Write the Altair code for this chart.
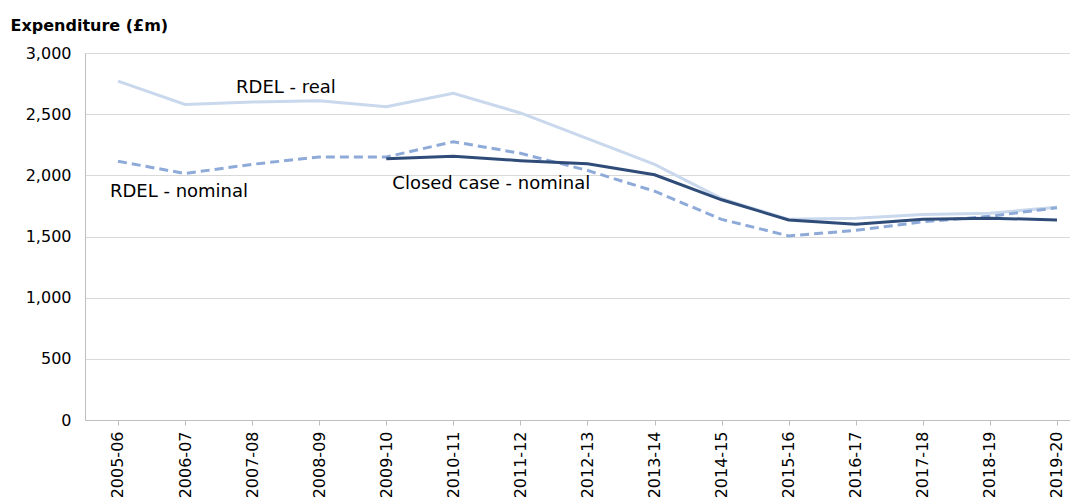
import altair as alt
import pandas as pd

years = ["2005-06", "2006-07", "2007-08", "2008-09", "2009-10", "2010-11", "2011-12",
         "2012-13", "2013-14", "2014-15", "2015-16", "2016-17", "2017-18", "2018-19", "2019-20"]
rdel_real = [2770, 2580, 2600, 2610, 2560, 2670, 2510, 2300, 2090, 1810, 1640, 1650, 1680, 1690, 1740]
rdel_nominal = [2115, 2015, 2090, 2150, 2150, 2275, 2180, 2040, 1870, 1640, 1505, 1550, 1620, 1665, 1735]
closed_nominal = [None, None, None, None, 2135, 2155, 2120, 2095, 2005, 1800, 1635, 1600, 1640, 1650, 1635]

series_names = ["RDEL - real", "RDEL - nominal", "Closed case - nominal"]
series_colors = ["#c9d8ec", "#8eaad8", "#2f4c78"]

ann_text = ["RDEL - real", "RDEL - nominal", "Closed case - nominal"]
ann_x = [1.76, -0.12, 4.09]
ann_y = [2714, 1864, 1929]

FONT = "DejaVu Sans"

rows = []
for name, vals in zip(series_names, [rdel_real, rdel_nominal, closed_nominal]):
    for i, v in enumerate(vals):
        if v is not None:
            rows.append({"idx": i, "year": years[i], "value": v, "series": name})
df = pd.DataFrame(rows)
ann = pd.DataFrame({"text": ann_text, "idx": ann_x, "value": ann_y})

label_expr = "[" + ",".join("'%s'" % y for y in years) + "][datum.value]"

xscale = alt.Scale(domain=[-0.492, 14.194], nice=False, zero=False)
yscale = alt.Scale(domain=[0, 3000], nice=False)

base = alt.Chart(df)

def line(name, color, dash=None):
    kw = dict(color=color, strokeWidth=3)
    if dash:
        kw["strokeDash"] = dash
    return base.transform_filter(alt.datum.series == name).mark_line(**kw).encode(
        x=alt.X("idx:Q", scale=xscale,
                axis=alt.Axis(values=list(range(len(years))), labelExpr=label_expr,
                              labelAngle=-90, labelAlign="right", labelBaseline="middle",
                              labelFont=FONT, labelFontSize=16, labelColor="#000000",
                              labelPadding=6, tickSize=5, tickColor="#bfbfbf", domainColor="#bfbfbf",
                              grid=False, title=None)),
        y=alt.Y("value:Q", scale=yscale,
                axis=alt.Axis(values=[0, 500, 1000, 1500, 2000, 2500, 3000], format=",.0f",
                              labelFont=FONT, labelFontSize=16, labelColor="#000000",
                              labelPadding=14, tickSize=0, domainColor="#bfbfbf",
                              gridColor="#d9d9d9", gridWidth=1.2,
                              title="Expenditure (£m)", titleAngle=0, titleX=-75, titleY=-23,
                              titleAlign="left", titleBaseline="alphabetic",
                              titleFont=FONT, titleFontSize=16, titleFontWeight="bold",
                              titleColor="#000000")),
    )

l_real = line("RDEL - real", series_colors[0])
l_nom = line("RDEL - nominal", series_colors[1], [9, 5])
l_closed = line("Closed case - nominal", series_colors[2])

texts = alt.Chart(ann).mark_text(align="left", baseline="middle", font=FONT,
                                 fontSize=18, color="#000000").encode(
    x=alt.X("idx:Q", scale=xscale), y=alt.Y("value:Q", scale=yscale), text="text:N")

chart = alt.layer(l_real, l_nom, l_closed, texts).properties(
    width=985, height=367,
    autosize=alt.AutoSizeParams(type="none"),
    padding={"left": 77, "top": 45, "right": 0, "bottom": 80},
).configure_view(stroke=None).configure(background="white")

chart.save("out.html", embed_options={"renderer": "svg", "actions": False})
